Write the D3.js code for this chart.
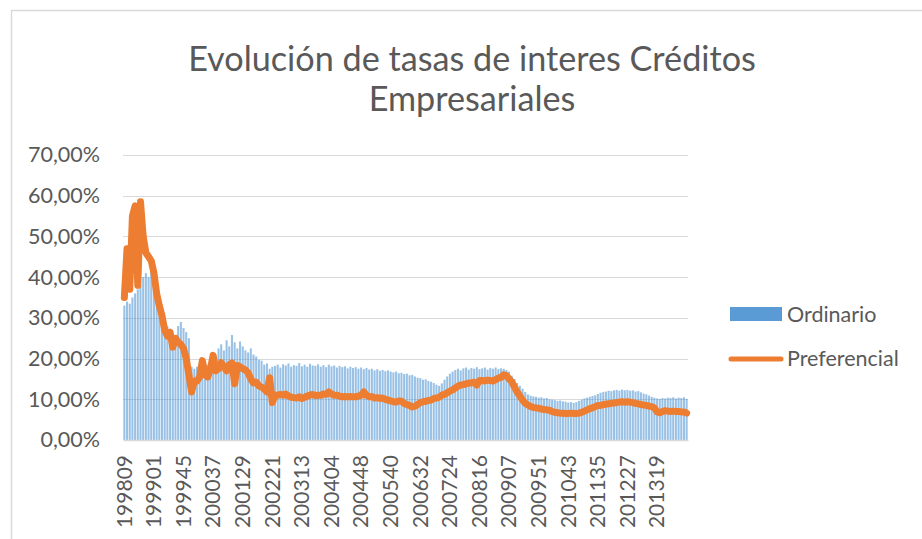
<!DOCTYPE html>
<html><head><meta charset="utf-8">
<script src="https://cdn.jsdelivr.net/npm/d3@7"></script>
<style>body{margin:0;background:#fff} svg{display:block}</style>
</head><body>
<svg id="chart" width="922" height="539"></svg>
<script>
// ---------- data ----------
const titleLines = ["Evolución de tasas de interes Créditos", "Empresariales"];
const seriesNames = ["Ordinario", "Preferencial"];

// categories: year-week codes, one every 4 weeks starting 199809
const firstCode = 199809;
const weekStep = 4;
const years53 = [2003, 2008];
const categoryCount = 210;
function buildCategories() {
  const out = [];
  let y = Math.floor(firstCode / 100), w = firstCode % 100;
  for (let i = 0; i < categoryCount; i++) {
    out.push(String(y * 100 + w));
    w += weekStep;
    const n = years53.includes(y) ? 53 : 52;
    if (w > n) { w -= n; y += 1; }
  }
  return out;
}
const categories = buildCategories();

const tickLabels = ["199809","199901","199945","200037","200129","200221","200313","200404",
  "200448","200540","200632","200724","200816","200907","200951","201043","201135","201227","201319"];

const yTicks = [0, 0.1, 0.2, 0.3, 0.4, 0.5, 0.6, 0.7];

// values in %
const ordinario = [
  33, 34, 33.5, 35, 36, 37, 38, 40, 41, 40,
  41.5, 39, 36, 33, 31, 29.5, 28, 27, 22.5, 25,
  28, 29, 27.5, 26.5, 25, 18, 17.5, 18, 18.5, 17,
  19, 18.5, 19.5, 21, 20.5, 22.5, 23.5, 22, 24.5, 23,
  25.8, 24, 22.5, 24.2, 23, 22, 21.5, 22.5, 21, 20.5,
  19.7, 19.5, 18.5, 18.8, 17.5, 18, 18.2, 18.5, 17.8, 18.6,
  18.3, 18.8, 18, 18.4, 18.2, 18.9, 18.1, 18.5, 18, 18.7,
  18.3, 18.2, 18.6, 18, 18.4, 17.9, 18.5, 18.1, 18.3, 17.8,
  18.2, 17.9, 18.1, 17.6, 18, 17.7, 17.9, 17.5, 17.8, 17.4,
  17.7, 17.3, 17.5, 17.1, 17.4, 17, 17.2, 16.9, 17.1, 16.8,
  16.6, 16.8, 16.4, 16.5, 16.2, 16.3, 15.9, 16.0, 15.6, 15.3,
  15.2, 14.8, 14.9, 14.5, 14.3, 14.0, 13.6, 13.3, 13.9, 14.8,
  15.6, 16.3, 16.8, 17.2, 17.5, 17.1, 17.6, 17.8, 17.3, 17.7,
  17.5, 17.9, 17.4, 17.6, 17.8, 17.3, 17.7, 17.5, 17.8, 17.4,
  17.6, 17.5, 17.2, 16.8, 15.8, 15.0, 14.0, 13.3, 12.6, 11.8,
  11.2, 10.9, 10.7, 10.6, 10.4, 10.5, 10.2, 10.3, 10.0, 9.9,
  9.8, 9.6, 9.7, 9.5, 9.4, 9.2, 9.3, 9.1, 9.3, 9.6,
  9.9, 10.2, 10.4, 10.6, 10.8, 11.0, 11.3, 11.6, 11.8, 11.9,
  12.1, 12.0, 12.2, 12.3, 12.1, 12.4, 12.2, 12.3, 12.1, 12.2,
  11.9, 12.0, 11.7, 11.4, 11.2, 10.9, 10.6, 10.4, 10.2, 10.1,
  10.3, 10.2, 10.4, 10.3, 10.5, 10.2, 10.4, 10.3, 10.5, 10.1
];
const preferencial = [
  35, 47, 37, 55, 57.5, 38, 58.5, 50, 46, 45,
  44, 41, 36, 33, 30.5, 27, 25.5, 26.5, 22.8, 25,
  24, 23.5, 22.5, 20, 16, 11.8, 14.5, 14.5, 15.5, 19.5,
  16, 15.5, 17.5, 20.8, 17, 17.5, 19, 18, 17, 18.5,
  18.9, 13.8, 18.3, 18, 17.5, 17.2, 16.5, 15, 14, 14.2,
  13.3, 13, 12.5, 11.8, 15.3, 9.2, 11, 11, 11.2, 11,
  11.3, 10.8, 10.5, 10.4, 10.3, 10.6, 10.2, 10.5, 10.8, 11,
  11.2, 10.9, 11, 11, 11.3, 11.2, 11.8, 11.3, 11, 11,
  10.8, 10.6, 10.7, 10.6, 10.7, 10.6, 10.6, 10.8, 11, 11.8,
  11, 10.6, 10.7, 10.3, 10.4, 10.2, 10.3, 10, 9.8, 9.6,
  9.4, 9.3, 9.6, 9.5, 9, 8.7, 8.5, 8.1, 8.3, 8.7,
  9.2, 9.4, 9.5, 9.7, 9.8, 10.2, 10.3, 10.5, 11, 11.2,
  11.6, 12, 12.3, 12.8, 13.2, 13.5, 13.6, 13.8, 14, 14,
  14.2, 13.5, 14.6, 14.6, 14.5, 14.7, 14.6, 14.5, 14.8, 15.2,
  15.4, 16, 15.8, 15, 14.3, 13, 11.8, 10.8, 9.8, 9,
  8.6, 8.2, 8, 7.9, 7.8, 7.6, 7.5, 7.4, 7.3, 7,
  6.8, 6.7, 6.6, 6.6, 6.5, 6.5, 6.6, 6.5, 6.5, 6.6,
  6.8, 7.1, 7.4, 7.7, 7.9, 8.2, 8.5, 8.5, 8.7, 8.8,
  8.9, 9, 9.1, 9.2, 9.3, 9.4, 9.3, 9.4, 9.3, 9.2,
  9, 8.9, 8.7, 8.6, 8.5, 8.3, 8.2, 7.9, 6.9, 6.7,
  7, 7.2, 7.1, 7, 7.1, 7, 7, 6.9, 6.9, 6.6
];

// ---------- layout ----------
const FONT = "Lato, 'Liberation Sans', sans-serif";
const TEXT = "#595959";
const plot = { left: 123, right: 688, top: 155, bottom: 440 };

const svg = d3.select("#chart");

// outer frame
svg.append("rect").attr("x", 11.5).attr("y", 10.5).attr("width", 940).attr("height", 560)
  .attr("fill", "#fff").attr("stroke", "#D9D9D9").attr("stroke-width", 1.5);

const x = d3.scaleBand().domain(categories).range([plot.left, plot.right]).paddingInner(0).paddingOuter(0);
const y = d3.scaleLinear().domain([0, 0.7]).range([plot.bottom, plot.top]);

const locale = d3.formatLocale({ decimal: ",", thousands: ".", grouping: [3], currency: ["", "€"], percent: "%" });
const pct = locale.format(".2%");

// gridlines
svg.append("g").selectAll("line").data(yTicks.slice(1)).join("line")
  .attr("x1", plot.left).attr("x2", plot.right)
  .attr("y1", d => Math.round(y(d)) + 0.5).attr("y2", d => Math.round(y(d)) + 0.5)
  .attr("stroke", "#D9D9D9").attr("stroke-width", 1);

// y axis labels
const yAxis = d3.axisLeft(y).tickValues(yTicks).tickFormat(pct).tickSize(0).tickPadding(0);
const gy = svg.append("g").attr("transform", `translate(${plot.left - 23},0)`).call(yAxis);
gy.select(".domain").remove();
gy.selectAll("text").attr("font-family", FONT).attr("font-size", 21.5).attr("fill", TEXT);

// bars
const bw = x.bandwidth();
svg.append("g").selectAll("rect").data(ordinario).join("rect")
  .attr("x", (d, i) => x(categories[i]) + bw * 0.12)
  .attr("width", bw * 0.76)
  .attr("y", d => y(d / 100))
  .attr("height", d => y(0) - y(d / 100))
  .attr("fill", "#5B9BD5").attr("fill-opacity", 0.62);

// x axis
const xAxis = d3.axisBottom(x).tickValues(tickLabels).tickSize(0).tickPadding(0);
const gx = svg.append("g").attr("transform", `translate(0,${plot.bottom})`).call(xAxis);
gx.select(".domain").attr("stroke", "#D9D9D9").attr("stroke-width", 1.5);
gx.selectAll("text")
  .attr("font-family", FONT).attr("font-size", 21).attr("fill", TEXT)
  .attr("text-anchor", "end")
  .attr("transform", "translate(0,15) rotate(-90)")
  .attr("x", 0).attr("y", 0).attr("dy", "0.35em");

// line
const line = d3.line()
  .x((d, i) => x(categories[i]) + bw / 2)
  .y(d => y(d / 100))
  .curve(d3.curveLinear);
svg.append("path").datum(preferencial).attr("d", line)
  .attr("fill", "none").attr("stroke", "#ED7D31").attr("stroke-width", 7)
  .attr("stroke-linejoin", "round").attr("stroke-linecap", "round");

// title
svg.append("text").attr("x", 472).attr("y", 0).attr("text-anchor", "middle")
  .attr("font-family", FONT).attr("font-size", 34.2).attr("fill", TEXT)
  .selectAll("tspan").data(titleLines).join("tspan")
  .attr("x", 472).attr("y", (d, i) => 71 + i * 40).text(d => d);

// legend
const lg = svg.append("g");
lg.append("rect").attr("x", 730).attr("y", 307).attr("width", 52).attr("height", 14).attr("fill", "#5B9BD5");
lg.append("line").attr("x1", 731).attr("x2", 781).attr("y1", 359).attr("y2", 359)
  .attr("stroke", "#ED7D31").attr("stroke-width", 5).attr("stroke-linecap", "round");
lg.selectAll("text").data(seriesNames).join("text")
  .attr("x", 787).attr("y", (d, i) => 322 + i * 44)
  .attr("font-family", FONT).attr("font-size", 21.5).attr("fill", TEXT).text(d => d);
</script>
</body></html>
